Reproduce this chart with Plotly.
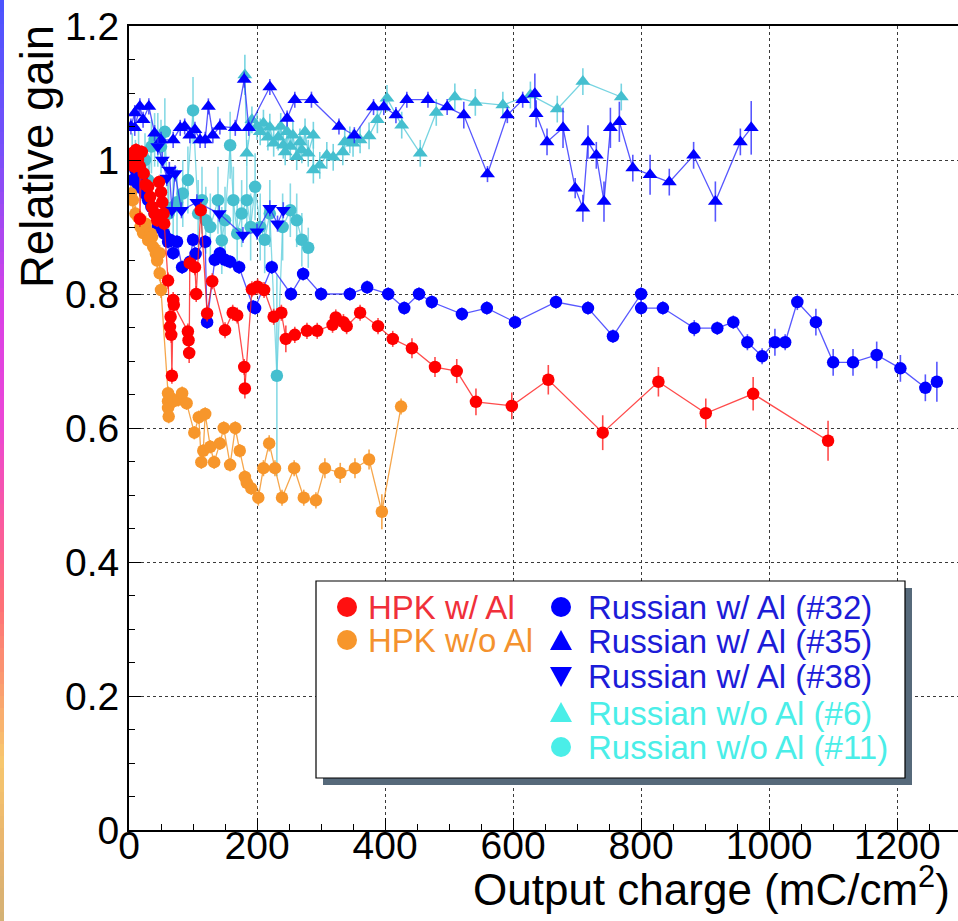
import numpy as np
import plotly.graph_objects as go

# ---------------- data ----------------
red_x = [2, 5, 8, 11, 14, 17, 17, 20, 23, 26,
         30, 33, 36, 40, 44, 47, 50, 52, 54, 55,
         61, 64, 65, 66, 67, 69, 70, 92, 93, 94,
         95, 103, 105, 112, 122, 130, 150, 162, 169, 180,
         181, 192, 201, 211, 226, 238, 245, 259, 278, 294,
         318, 323, 335, 340, 361, 389, 412, 442, 478, 512,
         542, 598, 655, 740, 827, 901, 975, 1092]
red_y = [1.0, 1.01, 0.99, 1.015, 1.0, 0.99, 0.912, 1.012, 0.98, 0.963,
         0.96, 0.945, 0.93, 0.92, 0.91, 0.967, 0.952, 0.937, 0.92, 0.905,
         0.82, 0.751, 0.766, 0.739, 0.678, 0.791, 0.784, 0.744, 0.731, 0.712,
         0.846, 0.84, 0.80, 0.925, 0.771, 0.819, 0.746, 0.772, 0.768, 0.691,
         0.659, 0.807, 0.811, 0.806, 0.766, 0.772, 0.733, 0.739, 0.745, 0.745,
         0.754, 0.765, 0.758, 0.752, 0.772, 0.752, 0.733, 0.719, 0.691, 0.685,
         0.639, 0.633, 0.672, 0.593, 0.669, 0.622, 0.651, 0.581]
red_err = [0.01, 0.01, 0.01, 0.01, 0.01, 0.01, 0.012, 0.01, 0.01, 0.01,
           0.01, 0.01, 0.012, 0.01, 0.01, 0.01, 0.01, 0.012, 0.01, 0.01,
           0.012, 0.012, 0.012, 0.012, 0.012, 0.012, 0.012, 0.012, 0.012, 0.015,
           0.012, 0.012, 0.012, 0.012, 0.012, 0.012, 0.012, 0.012, 0.012, 0.012,
           0.015, 0.012, 0.012, 0.012, 0.012, 0.012, 0.02, 0.012, 0.012, 0.012,
           0.012, 0.012, 0.012, 0.012, 0.012, 0.012, 0.012, 0.015, 0.015, 0.018,
           0.02, 0.02, 0.022, 0.026, 0.022, 0.022, 0.025, 0.03]

orange_x = [3, 6, 10, 14, 18, 22, 26, 30, 34, 36,
            38, 42, 44, 48, 48, 50, 61, 61, 61, 62,
            65, 70, 77, 83, 90, 102, 109, 113, 116, 119,
            127, 133, 142, 148, 158, 166, 173, 181, 184, 191,
            202, 210, 219, 228, 239, 258, 273, 292, 306, 330,
            353, 375, 395, 425]
orange_y = [0.95, 0.94, 0.92, 0.915, 0.9, 0.891, 0.905, 0.88, 0.89, 0.885,
            0.87, 0.86, 0.85, 0.861, 0.831, 0.806, 0.652, 0.64, 0.63, 0.617,
            0.645, 0.64, 0.642, 0.652, 0.637, 0.593, 0.616, 0.549, 0.566, 0.621,
            0.572, 0.549, 0.577, 0.6, 0.545, 0.6, 0.566, 0.527, 0.518, 0.51,
            0.496, 0.54, 0.577, 0.54, 0.496, 0.54, 0.496, 0.492, 0.54, 0.533,
            0.54, 0.553, 0.475, 0.632]
orange_err = [0.012, 0.012, 0.012, 0.012, 0.012, 0.012, 0.012, 0.012, 0.012, 0.012,
              0.012, 0.012, 0.012, 0.012, 0.012, 0.012, 0.01, 0.01, 0.01, 0.01,
              0.01, 0.01, 0.01, 0.01, 0.01, 0.01, 0.01, 0.01, 0.01, 0.01,
              0.01, 0.01, 0.01, 0.01, 0.01, 0.01, 0.01, 0.01, 0.01, 0.01,
              0.012, 0.012, 0.012, 0.012, 0.012, 0.012, 0.012, 0.012, 0.015, 0.015,
              0.015, 0.015, 0.026, 0.012]

r32_x = [3, 6, 10, 15, 20, 25, 30, 35, 40, 45,
         50, 55, 61, 64, 69, 75, 83, 95, 100, 104,
         119, 122, 134, 142, 150, 158, 172, 194, 197, 223,
         253, 272, 300, 345, 372, 405, 430, 453, 473, 520,
         559, 603, 667, 717, 756, 800, 800, 834, 883, 919,
         944, 966, 989, 1009, 1025, 1044, 1073, 1100, 1131, 1168,
         1205, 1244, 1262]
r32_y = [1.0, 0.97, 0.985, 0.96, 0.975, 0.95, 0.94, 0.93, 0.92, 0.9,
         0.91, 0.89, 0.878, 0.881, 0.861, 0.878, 0.84, 0.848, 0.881, 0.86,
         0.878, 0.758, 0.851, 0.861, 0.851, 0.848, 0.84, 0.781, 0.779, 0.84,
         0.8, 0.83, 0.8, 0.8, 0.81, 0.8, 0.779, 0.8, 0.788, 0.77,
         0.779, 0.758, 0.788, 0.779, 0.737, 0.8, 0.779, 0.779, 0.749, 0.749,
         0.758, 0.728, 0.707, 0.728, 0.728, 0.788, 0.758, 0.698, 0.698, 0.709,
         0.689, 0.66, 0.669]
r32_err = [0.01, 0.01, 0.01, 0.01, 0.01, 0.01, 0.01, 0.01, 0.01, 0.01,
           0.01, 0.01, 0.01, 0.01, 0.01, 0.01, 0.01, 0.01, 0.01, 0.01,
           0.01, 0.01, 0.01, 0.01, 0.01, 0.01, 0.01, 0.01, 0.01, 0.01,
           0.01, 0.01, 0.01, 0.01, 0.01, 0.01, 0.01, 0.01, 0.01, 0.01,
           0.01, 0.01, 0.01, 0.01, 0.01, 0.01, 0.01, 0.01, 0.012, 0.01,
           0.01, 0.012, 0.012, 0.02, 0.012, 0.012, 0.02, 0.02, 0.02, 0.02,
           0.02, 0.02, 0.03]

r35_x = [3, 9, 9, 17, 22, 31, 40, 50, 69, 80,
         87, 95, 103, 111, 119, 124, 131, 142, 166, 180,
         187, 220, 247, 259, 285, 328, 352, 382, 398, 417,
         434, 467, 497, 523, 560, 591, 615, 634, 636, 653,
         678, 697, 709, 717, 730, 742, 752, 766, 787, 814,
         844, 882, 916, 955, 972]
r35_y = [1.05, 1.07, 1.048, 1.08, 1.06, 1.08, 1.04, 1.03, 1.03, 1.048,
         1.05, 1.037, 1.045, 1.03, 1.03, 1.08, 1.037, 1.05, 1.048, 1.12,
         1.048, 1.109, 1.062, 1.09, 1.09, 1.05, 1.037, 1.079, 1.079, 1.067,
         1.09, 1.09, 1.079, 1.067, 0.979, 1.067, 1.09, 1.099, 1.069, 1.027,
         1.048, 0.958, 0.928, 1.027, 1.007, 0.938, 1.048, 1.057, 0.988, 0.978,
         0.967, 1.007, 0.938, 1.027, 1.048]
r35_err = [0.012, 0.012, 0.012, 0.012, 0.012, 0.012, 0.012, 0.012, 0.012, 0.012,
           0.012, 0.012, 0.012, 0.012, 0.012, 0.012, 0.012, 0.012, 0.012, 0.012,
           0.012, 0.012, 0.012, 0.012, 0.012, 0.012, 0.012, 0.012, 0.012, 0.012,
           0.012, 0.012, 0.012, 0.02, 0.012, 0.012, 0.012, 0.03, 0.02, 0.02,
           0.03, 0.015, 0.02, 0.025, 0.02, 0.03, 0.03, 0.03, 0.02, 0.03,
           0.02, 0.02, 0.03, 0.02, 0.04]

r38_x = [45, 52, 59, 63, 67, 72, 82, 106, 141, 178, 200, 220, 232, 241]
r38_y = [1.02, 1.0, 0.973, 0.985, 0.925, 0.98, 0.925, 0.937, 0.92, 0.888,
         0.893, 0.928, 0.905, 0.925]
r38_err = [0.012, 0.012, 0.012, 0.012, 0.012, 0.012, 0.012, 0.012, 0.012, 0.012,
           0.012, 0.012, 0.012, 0.012]

r6_x = [181, 184, 192, 200, 205, 210, 217, 220, 226, 233,
        237, 241, 244, 247, 252, 256, 262, 267, 270, 275,
        280, 288, 288, 298, 309, 319, 334, 337, 345, 350,
        361, 375, 388, 403, 426, 455, 480, 509, 541, 584,
        627, 669, 709, 769]
r6_y = [1.127, 1.01, 1.06, 1.05, 1.042, 1.055, 1.034, 1.049, 1.025, 1.034,
        1.05, 1.022, 1.012, 1.042, 1.02, 1.037, 1.005, 1.027, 1.015, 1.042,
        1.01, 1.037, 0.985, 0.992, 1.007, 1.004, 1.012, 1.027, 1.03, 1.025,
        1.03, 1.036, 1.06, 1.092, 1.052, 1.01, 1.071, 1.094, 1.086, 1.082,
        1.097, 1.076, 1.117, 1.094]
r6_err = [0.03, 0.02, 0.02, 0.02, 0.02, 0.02, 0.02, 0.02, 0.02, 0.02,
          0.02, 0.02, 0.02, 0.02, 0.02, 0.02, 0.02, 0.02, 0.02, 0.02,
          0.02, 0.02, 0.02, 0.02, 0.02, 0.02, 0.02, 0.02, 0.02, 0.02,
          0.02, 0.02, 0.02, 0.02, 0.02, 0.02, 0.02, 0.02, 0.02, 0.02,
          0.02, 0.02, 0.02, 0.02]

r11_x = [5, 10, 15, 20, 25, 30, 35, 40, 45, 50,
         56, 62, 69, 75, 84, 92, 100, 108, 114, 120,
         127, 139, 145, 150, 158, 163, 169, 176, 184, 190,
         197, 205, 212, 220, 231, 240, 252, 262, 270, 280]
r11_y = [1.0, 0.99, 1.01, 0.98, 1.0, 0.97, 1.02, 1.03, 1.03, 1.02,
         1.042, 0.92, 0.93, 0.937, 0.95, 0.97, 1.074, 0.92, 0.94, 0.91,
         0.9, 0.94, 0.88, 0.91, 1.022, 0.94, 0.89, 0.92, 0.94, 0.9,
         0.96, 0.9, 0.881, 0.92, 0.678, 0.9, 0.925, 0.91, 0.881, 0.869]
r11_err = [0.04, 0.04, 0.04, 0.04, 0.04, 0.04, 0.04, 0.04, 0.04, 0.04,
           0.05, 0.05, 0.05, 0.05, 0.05, 0.05, 0.05, 0.05, 0.05, 0.05,
           0.05, 0.05, 0.05, 0.05, 0.05, 0.05, 0.05, 0.05, 0.05, 0.05,
           0.05, 0.05, 0.05, 0.05, 0.15, 0.05, 0.04, 0.04, 0.04, 0.03]

x_ticks = [0, 200, 400, 600, 800, 1000, 1200]
x_tick_labels = ["0", "200", "400", "600", "800", "1000", "1200"]
y_ticks = [0, 0.2, 0.4, 0.6, 0.8, 1.0, 1.2]
y_tick_labels = ["0", "0.2", "0.4", "0.6", "0.8", "1", "1.2"]

# ---------------- styles ----------------
FONT = "Liberation Sans, Arial, Helvetica, sans-serif"
W, H = 958, 921
L, R, T, B = 129, 958, 26, 830   # plot area in pixels


def px(x):
    return (x - L) / (R - L)


def py(y):
    return (B - y) / (B - T)


series = [
    # name, x, y, err, marker color, line color, symbol
    ("Russian w/o Al (#11)", r11_x, r11_y, r11_err, "#45bfcf", "rgba(95,205,220,0.75)", "circle"),
    ("Russian w/o Al (#6)", r6_x, r6_y, r6_err, "#45bfcf", "rgba(95,205,220,0.85)", "triangle-up"),
    ("Russian w/ Al (#32)", r32_x, r32_y, r32_err, "#0000ff", "rgba(45,45,255,0.8)", "circle"),
    ("Russian w/ Al (#35)", r35_x, r35_y, r35_err, "#0000ff", "rgba(45,45,255,0.8)", "triangle-up"),
    ("Russian w/ Al (#38)", r38_x, r38_y, r38_err, "#0000ff", "rgba(45,45,255,0.8)", "triangle-down"),
    ("HPK w/o Al", orange_x, orange_y, orange_err, "#f7962b", "rgba(245,150,45,0.85)", "circle"),
    ("HPK w/ Al", red_x, red_y, red_err, "#ff0000", "rgba(255,30,30,0.8)", "circle"),
]

fig = go.Figure()
for name, xs, ys, es, mc, lc, sym in series:
    fig.add_trace(go.Scatter(
        x=xs, y=ys, mode="lines+markers", name=name,
        line=dict(color=lc, width=1.3),
        marker=dict(symbol=sym, size=13 if sym != "circle" else 12.5, color=mc, line=dict(width=0)),
        error_y=dict(type="data", array=es, visible=True, width=0, thickness=1.6, color=lc),
        showlegend=False,
    ))

shapes = []

# left decorative gradient strip
grad_pos = [0, 150, 300, 420, 520, 600, 700, 760, 850, 921]
grad_r = [75, 120, 215, 235, 250, 255, 250, 248, 232, 212]
grad_g = [85, 80, 65, 70, 90, 110, 165, 200, 180, 178]
grad_b = [255, 250, 232, 215, 160, 120, 110, 110, 110, 118]
step = 12
for y0 in range(0, H, step):
    yc = y0 + step / 2
    c = (int(np.interp(yc, grad_pos, grad_r)), int(np.interp(yc, grad_pos, grad_g)),
         int(np.interp(yc, grad_pos, grad_b)))
    shapes.append(dict(type="rect", xref="paper", yref="paper", layer="above",
                       x0=px(0), x1=px(4), y0=py(y0 + step + 0.5), y1=py(y0),
                       fillcolor=f"rgb{c}", line=dict(width=0)))

# legend box with shadow
shapes.append(dict(type="rect", xref="paper", yref="paper", layer="above",
                   x0=px(323), x1=px(912), y0=py(785), y1=py(588),
                   fillcolor="#56697a", line=dict(width=0)))
shapes.append(dict(type="rect", xref="paper", yref="paper", layer="above",
                   x0=px(316), x1=px(905), y0=py(778), y1=py(581),
                   fillcolor="white", line=dict(color="black", width=1.2)))


def circle_shape(cx, cy, col, r=10):
    return dict(type="circle", xref="paper", yref="paper", layer="above",
                x0=px(cx - r), x1=px(cx + r), y0=py(cy + r), y1=py(cy - r),
                fillcolor=col, line=dict(width=0))


def tri_shape(cx, cy, col, up=True, r=11):
    if up:
        pts = [(cx - r, cy + 9), (cx + r, cy + 9), (cx, cy - 11)]
    else:
        pts = [(cx - r, cy - 9), (cx + r, cy - 9), (cx, cy + 11)]
    path = "M " + " L ".join(f"{px(a):.5f},{py(b):.5f}" for a, b in pts) + " Z"
    return dict(type="path", xref="paper", yref="paper", layer="above", path=path,
                fillcolor=col, line=dict(width=0))


legend_rows = [
    # text, text color, marker color, kind, marker x, text x, y
    ("HPK w/ Al", "#f0303a", "#ff1010", "circle", 347, 366, 607),
    ("HPK w/o Al", "#f4922e", "#f7962b", "circle", 347, 366, 640),
    ("Russian w/ Al (#32)", "#1c1cd8", "#0000ff", "circle", 561, 586, 607),
    ("Russian w/ Al (#35)", "#1c1cd8", "#0000ff", "up", 561, 586, 641),
    ("Russian w/ Al (#38)", "#1c1cd8", "#0000ff", "down", 561, 586, 676),
    ("Russian w/o Al (#6)", "#4aeee8", "#4aeee8", "up", 561, 586, 713),
    ("Russian w/o Al (#11)", "#4aeee8", "#4aeee8", "circle", 561, 586, 747),
]

annotations = []
for text, tcol, mcol, kind, mx, tx, yy in legend_rows:
    if kind == "circle":
        shapes.append(circle_shape(mx, yy, mcol))
    else:
        shapes.append(tri_shape(mx, yy, mcol, up=(kind == "up")))
    annotations.append(dict(text=text, xref="paper", yref="paper", x=px(tx), y=py(yy),
                            xanchor="left", yanchor="middle", showarrow=False,
                            font=dict(family=FONT, size=33, color=tcol)))

# axis titles (ROOT style: aligned to the axis end)
annotations.append(dict(text="Relative gain", textangle=-90, xref="paper", yref="paper",
                        x=px(37), y=py(157), xanchor="center", yanchor="middle",
                        showarrow=False, font=dict(family=FONT, size=45.5, color="black")))
annotations.append(dict(text="Output charge (mC/cm<sup>2</sup>)", xref="paper", yref="paper",
                        x=px(952), y=py(887), xanchor="right", yanchor="middle",
                        showarrow=False, font=dict(family=FONT, size=44, color="black")))

axis_common = dict(
    showline=True, linecolor="black", linewidth=2,
    ticks="inside", ticklen=12, tickwidth=1, tickcolor="black",
    showgrid=True, gridcolor="#3a3a3a", griddash="dot", gridwidth=1,
    zeroline=False, tickfont=dict(family=FONT, size=39, color="black"),
    tickmode="array", automargin=False,
)

fig.update_layout(
    width=W, height=H,
    margin=dict(l=L, r=W - R, t=T, b=H - B, pad=0),
    paper_bgcolor="white", plot_bgcolor="white",
    xaxis=dict(range=[0, 1295], tickvals=x_ticks, ticktext=x_tick_labels, mirror=True,
               ticklabelstandoff=-20,
               minor=dict(dtick=50, tick0=0, ticks="inside", ticklen=6, tickcolor="black",
                          showgrid=False),
               **axis_common),
    yaxis=dict(range=[0, 1.2], tickvals=y_ticks, ticktext=y_tick_labels, mirror=False,
               minor=dict(dtick=0.05, tick0=0, ticks="inside", ticklen=6, tickcolor="black",
                          showgrid=False),
               **axis_common),
    shapes=shapes, annotations=annotations,
    showlegend=False,
)

fig.write_html("out.html")
